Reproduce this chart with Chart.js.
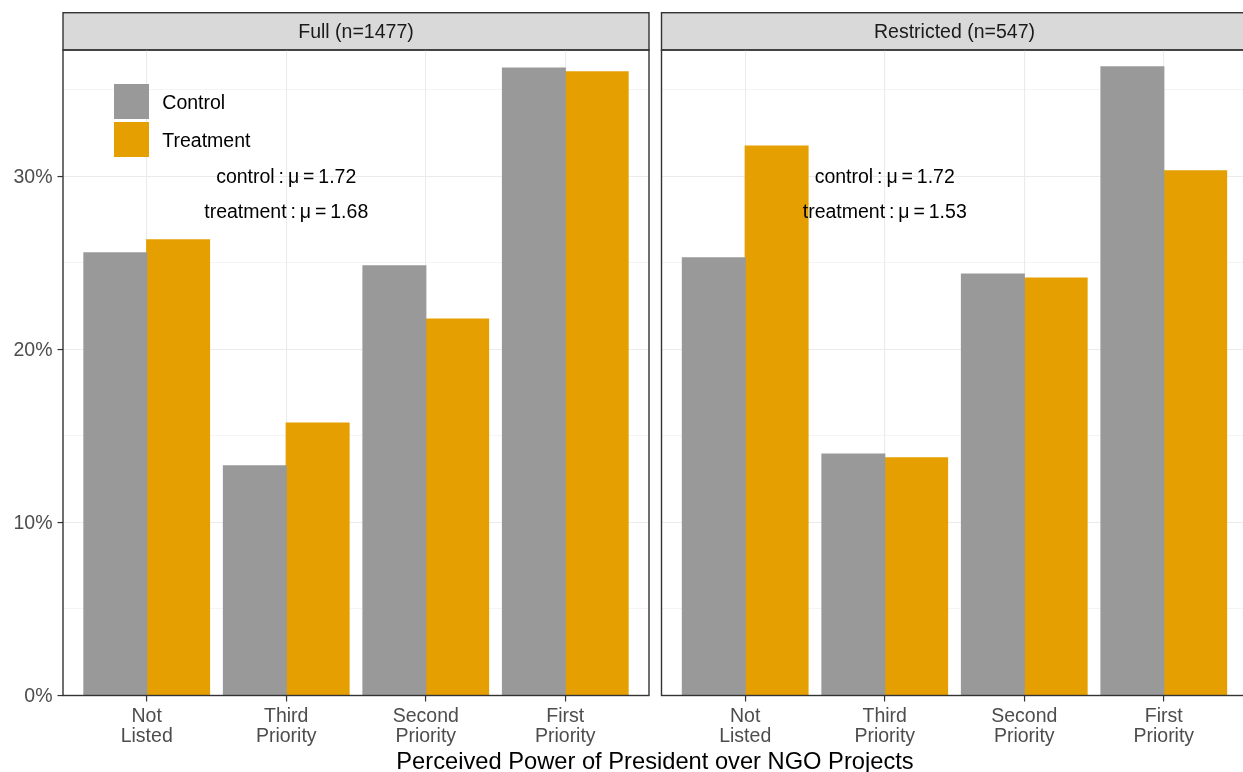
<!DOCTYPE html>
<html>
<head>
<meta charset="utf-8">
<script src="https://cdn.jsdelivr.net/npm/chart.js@4.4.0/dist/chart.umd.min.js"></script>
<style>
html,body{margin:0;padding:0;background:#ffffff;overflow:hidden;}
#wrap{position:relative;width:1243px;height:772px;overflow:hidden;background:#ffffff;}
#c1{position:absolute;left:0;top:0;}
#c2{position:absolute;left:655px;top:0;}
#xtitle{position:absolute;left:0;width:1310px;top:748.5px;text-align:center;font-family:'Liberation Sans',Arial,sans-serif;font-size:23.7px;line-height:24px;color:#000000;white-space:nowrap;}
</style>
</head>
<body>
<div id="wrap">
  <canvas id="c1" width="660" height="772"></canvas>
  <canvas id="c2" width="600" height="772"></canvas>
  <div id="xtitle">Perceived Power of President over NGO Projects</div>
</div>
<script>
// ---------- data ----------
const categories = ['Not Listed', 'Third Priority', 'Second Priority', 'First Priority'];
const tickLabels = [['Not', 'Listed'], ['Third', 'Priority'], ['Second', 'Priority'], ['First', 'Priority']];
const categoryPositions = [1, 2, 3, 4];
const seriesNames = ['Control', 'Treatment'];
const panelTitles = ['Full (n=1477)', 'Restricted (n=547)'];
const fullControl = [25.58, 13.27, 24.83, 36.27];
const fullTreatment = [26.33, 15.75, 21.76, 36.04];
const restrictedControl = [25.29, 13.96, 24.36, 36.33];
const restrictedTreatment = [31.76, 13.73, 24.13, 30.32];
const fullNotes = ['control\u2009:\u2009\u03BC\u2009=\u20091.72', 'treatment\u2009:\u2009\u03BC\u2009=\u20091.68'];
const restrictedNotes = ['control\u2009:\u2009\u03BC\u2009=\u20091.72', 'treatment\u2009:\u2009\u03BC\u2009=\u20091.53'];
const noteX = 2;
const noteY = [30, 28];
const yMax = 37.31;
const yStep = 5;

// ---------- styles ----------
const FONT = "'Liberation Sans', Arial, sans-serif";
const COLORS = ['#999999', '#E69F00'];
const STRIP_TOP = 12.7;

function toPoints(values) {
  return categoryPositions.map((x, i) => ({ x: x, y: values[i] }));
}

const panelPlugin = {
  id: 'panelDecor',
  beforeDraw(chart) {
    const { ctx, chartArea } = chart;
    ctx.save();
    ctx.fillStyle = '#d9d9d9';
    ctx.fillRect(chartArea.left, STRIP_TOP, chartArea.right - chartArea.left, chartArea.top - STRIP_TOP);
    ctx.strokeStyle = '#333333';
    ctx.lineWidth = 1.4;
    ctx.strokeRect(chartArea.left, STRIP_TOP, chartArea.right - chartArea.left, chartArea.top - STRIP_TOP);
    ctx.restore();
  },
  afterDatasetsDraw(chart) {
    const { ctx, chartArea, scales } = chart;
    const o = chart.options.plugins.panelDecor || {};
    ctx.save();
    if (o.notes) {
      ctx.font = '19.5px ' + FONT;
      ctx.fillStyle = '#000000';
      ctx.textAlign = 'center';
      ctx.textBaseline = 'middle';
      o.notes.forEach((t, i) => {
        ctx.fillText(t, scales.x.getPixelForValue(noteX), scales.y.getPixelForValue(noteY[i]) + 1.5);
      });
    }
    if (o.legend) {
      const left = chartArea.left + 51;
      const top0 = chartArea.top + 34;
      chart.data.datasets.forEach((ds, i) => {
        const top = top0 + i * 38;
        ctx.fillStyle = ds.backgroundColor;
        ctx.fillRect(left, top, 35, 35);
        ctx.font = '19.5px ' + FONT;
        ctx.fillStyle = '#000000';
        ctx.textAlign = 'left';
        ctx.textBaseline = 'middle';
        ctx.fillText(ds.label, left + 48.3, top + 19.5);
      });
    }
    ctx.restore();
  },
  afterDraw(chart) {
    const { ctx, chartArea } = chart;
    ctx.save();
    ctx.strokeStyle = '#333333';
    ctx.lineWidth = 1.4;
    ctx.strokeRect(chartArea.left, chartArea.top, chartArea.right - chartArea.left, chartArea.bottom - chartArea.top);
    ctx.restore();
  }
};

function makeChart(id, title, control, treatment, notes, isLeft) {
  return new Chart(document.getElementById(id), {
    type: 'bar',
    data: {
      datasets: [
        { label: seriesNames[0], data: toPoints(control), backgroundColor: COLORS[0], borderWidth: 0, inflateAmount: 0.6 },
        { label: seriesNames[1], data: toPoints(treatment), backgroundColor: COLORS[1], borderWidth: 0, inflateAmount: 0.6 }
      ]
    },
    options: {
      responsive: false,
      animation: false,
      devicePixelRatio: 1,
      layout: { padding: { left: 0, right: isLeft ? 11 : 7.5, top: 0, bottom: 0 } },
      datasets: { bar: { categoryPercentage: 0.9, barPercentage: 1.0 } },
      plugins: {
        legend: { display: false },
        tooltip: { enabled: false },
        title: {
          display: true,
          text: title,
          fullSize: false,
          color: '#1a1a1a',
          font: { family: FONT, size: 19.5, weight: 'normal', lineHeight: 1.2 },
          padding: { top: 21, bottom: 5.6 }
        },
        panelDecor: { notes: notes, legend: isLeft }
      },
      scales: {
        x: {
          type: 'linear',
          min: 0.4,
          max: 4.6,
          offset: false,
          border: { display: false },
          grid: {
            offset: false,
            color: '#ebebeb',
            lineWidth: 1.1,
            tickColor: '#333333',
            tickWidth: 1.2,
            tickLength: 6
          },
          ticks: {
            stepSize: 1,
            includeBounds: false,
            autoSkip: false,
            maxRotation: 0,
            minRotation: 0,
            padding: 4.5,
            color: '#4d4d4d',
            font: { family: FONT, size: 19.5, lineHeight: 1.05 },
            callback: (v) => {
              const i = categoryPositions.indexOf(v);
              return i >= 0 ? tickLabels[i] : null;
            }
          },
          afterFit: (scale) => { scale.height = 76.5; }
        },
        y: {
          min: 0,
          max: yMax,
          border: { display: false },
          grid: {
            color: '#ebebeb',
            lineWidth: (c) => (c.tick && c.tick.value % 10 === 0) ? 1.1 : 0.55,
            drawTicks: isLeft,
            tickColor: (c) => (c.tick && c.tick.value % 10 === 0) ? '#333333' : 'rgba(0,0,0,0)',
            tickWidth: 1.2,
            tickLength: 5.5
          },
          ticks: {
            display: isLeft,
            stepSize: yStep,
            includeBounds: false,
            padding: 5,
            labelOffset: 1.5,
            color: '#4d4d4d',
            font: { family: FONT, size: 19.5 },
            callback: (v) => (v % 10 === 0 ? v + '%' : '')
          },
          afterFit: (scale) => { scale.width = isLeft ? 63 : 6.5; }
        }
      }
    },
    plugins: [panelPlugin]
  });
}

makeChart('c1', panelTitles[0], fullControl, fullTreatment, fullNotes, true);
makeChart('c2', panelTitles[1], restrictedControl, restrictedTreatment, restrictedNotes, false);
</script>
</body>
</html>
